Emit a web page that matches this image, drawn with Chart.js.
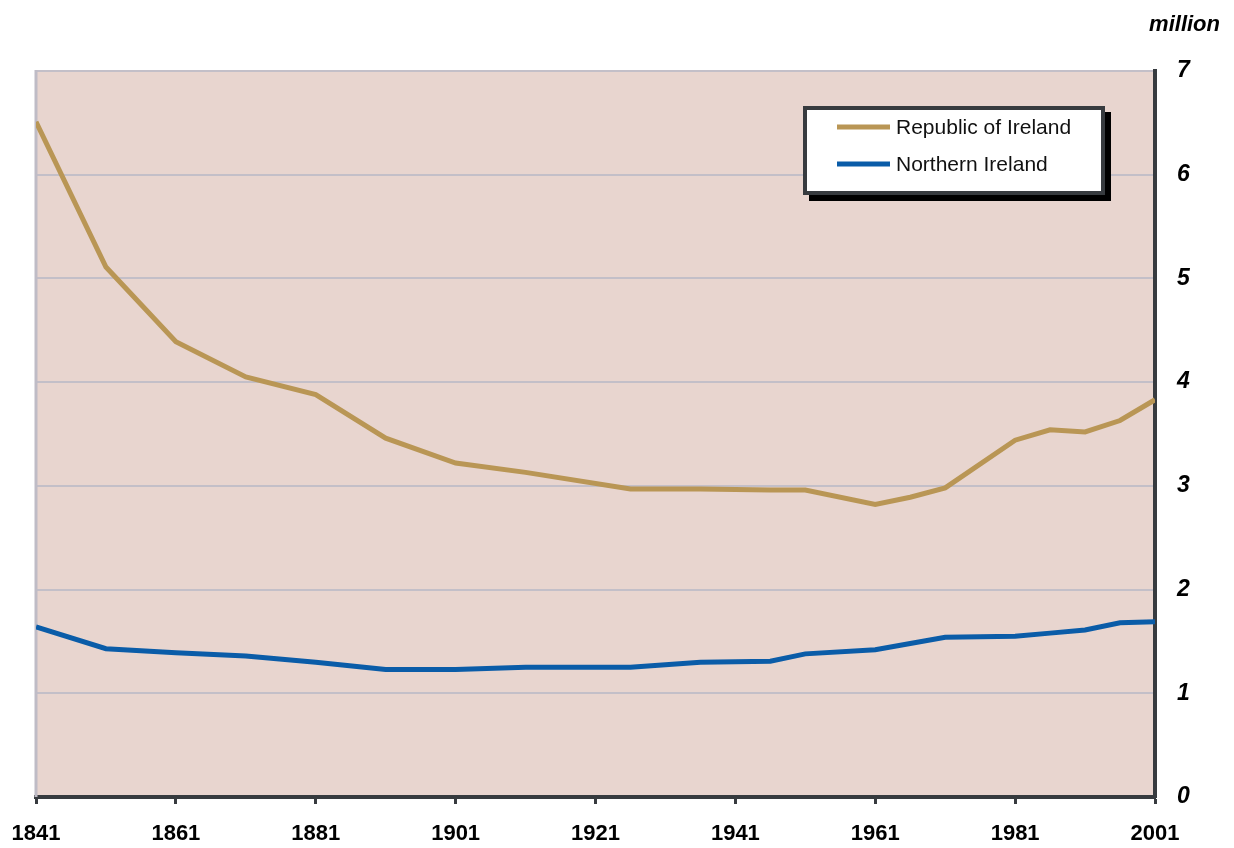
<!DOCTYPE html>
<html>
<head>
<meta charset="utf-8">
<script src="https://cdn.jsdelivr.net/npm/chart.js@4/dist/chart.umd.min.js"></script>
<style>
  html, body { margin: 0; padding: 0; background: #ffffff; }
  #wrap { width: 1234px; height: 848px; }
</style>
</head>
<body>
<div id="wrap"><canvas id="chart" width="1234" height="848"></canvas></div>
<script>
// census years and population (million)
const years = [1841, 1851, 1861, 1871, 1881, 1891, 1901, 1911, 1926, 1936, 1946, 1951, 1961, 1966, 1971, 1981, 1986, 1991, 1996, 2001];
const republicOfIreland = [6.51, 5.11, 4.39, 4.05, 3.88, 3.46, 3.22, 3.13, 2.97, 2.97, 2.96, 2.96, 2.82, 2.89, 2.98, 3.44, 3.54, 3.52, 3.63, 3.83];
const northernIreland = [1.64, 1.43, 1.39, 1.36, 1.30, 1.23, 1.23, 1.25, 1.25, 1.30, 1.31, 1.38, 1.42, 1.48, 1.54, 1.55, 1.58, 1.61, 1.68, 1.69];
const xTicks = [1841, 1861, 1881, 1901, 1921, 1941, 1961, 1981, 2001];
const yTicks = [0, 1, 2, 3, 4, 5, 6, 7];
const seriesNames = ['Republic of Ireland', 'Northern Ireland'];
const seriesColors = ['#B99655', '#0A5CA8'];

const points = (vals) => years.map((y, i) => ({ x: y, y: vals[i] }));

// background, left edge, legend box and unit label
const decor = {
  id: 'decor',
  beforeDraw(chart) {
    const { ctx, chartArea: a } = chart;
    ctx.save();
    ctx.fillStyle = '#E8D5CF';
    ctx.fillRect(a.left, a.top, a.right - a.left, a.bottom - a.top);
    ctx.restore();
  },
  beforeDatasetsDraw(chart) {
    const { ctx, chartArea: a } = chart;
    ctx.save();
    ctx.strokeStyle = '#BFBCC6';
    ctx.lineWidth = 3;
    ctx.beginPath();
    ctx.moveTo(a.left, a.top - 1);
    ctx.lineTo(a.left, a.bottom);
    ctx.stroke();
    ctx.restore();
  },
  afterDraw(chart) {
    const ctx = chart.ctx;
    ctx.save();
    // legend shadow + box
    const bx = 803, by = 106, bw = 302, bh = 89;
    ctx.fillStyle = '#000000';
    ctx.fillRect(bx + 6, by + 6, bw, bh);
    ctx.fillStyle = '#ffffff';
    ctx.fillRect(bx, by, bw, bh);
    ctx.strokeStyle = '#373B3F';
    ctx.lineWidth = 4;
    ctx.strokeRect(bx + 2, by + 2, bw - 4, bh - 4);
    ctx.font = '21px "Liberation Sans", Arial, sans-serif';
    ctx.textBaseline = 'middle';
    ctx.textAlign = 'left';
    chart.data.datasets.forEach((ds, i) => {
      const yy = 127 + i * 37;
      ctx.strokeStyle = ds.borderColor;
      ctx.lineWidth = 5;
      ctx.beginPath();
      ctx.moveTo(837, yy);
      ctx.lineTo(890, yy);
      ctx.stroke();
      ctx.fillStyle = '#111111';
      ctx.fillText(ds.label, 896, yy + 1);
    });
    // unit label
    ctx.font = 'italic bold 22px "Liberation Sans", Arial, sans-serif';
    ctx.textAlign = 'right';
    ctx.textBaseline = 'alphabetic';
    ctx.fillStyle = '#000000';
    ctx.fillText('million', 1220, 31);
    ctx.restore();
  }
};

new Chart(document.getElementById('chart'), {
  type: 'line',
  data: {
    datasets: [
      {
        label: seriesNames[0],
        data: points(republicOfIreland),
        borderColor: seriesColors[0],
        borderWidth: 5,
        pointRadius: 0,
        tension: 0,
        fill: false,
      },
      {
        label: seriesNames[1],
        data: points(northernIreland),
        borderColor: seriesColors[1],
        borderWidth: 5,
        pointRadius: 0,
        tension: 0,
        fill: false,
      },
    ],
  },
  options: {
    responsive: false,
    animation: false,
    layout: { padding: { left: 36, right: 0, top: 71, bottom: 0 } },
    plugins: {
      legend: { display: false },
      tooltip: { enabled: false },
    },
    scales: {
      x: {
        type: 'linear',
        min: 1841,
        max: 2001,
        afterBuildTicks: (scale) => { scale.ticks = xTicks.map(v => ({ value: v })); },
        afterFit: (scale) => {
          scale.height = 51;
          scale.paddingLeft = 0;
          scale.paddingRight = 0;
        },
        grid: {
          drawOnChartArea: false,
          drawTicks: true,
          tickLength: 7,
          tickWidth: 3,
          tickColor: '#373B3F',
        },
        border: { color: '#373B3F', width: 4 },
        ticks: {
          padding: 17,
          color: '#000000',
          maxRotation: 0,
          autoSkip: false,
          font: { family: '"Liberation Sans", Arial, sans-serif', size: 22, weight: 'bold' },
          callback: (v) => String(v),
        },
      },
      y: {
        position: 'right',
        min: 0,
        max: 7,
        afterBuildTicks: (scale) => { scale.ticks = yTicks.map(v => ({ value: v })); },
        afterFit: (scale) => {
          scale.width = 79;
          scale.paddingTop = 0;
          scale.paddingBottom = 0;
        },
        grid: {
          color: (c) => (c.tick && c.tick.value === 0 ? 'rgba(0,0,0,0)' : '#C3BFC8'),
          lineWidth: 2,
          drawTicks: false,
        },
        border: { color: '#373B3F', width: 4 },
        ticks: {
          padding: 22,
          color: '#000000',
          font: { family: '"Liberation Sans", Arial, sans-serif', size: 23, weight: 'bold', style: 'italic' },
          callback: (v) => String(v),
        },
      },
    },
  },
  plugins: [decor],
});
</script>
</body>
</html>
